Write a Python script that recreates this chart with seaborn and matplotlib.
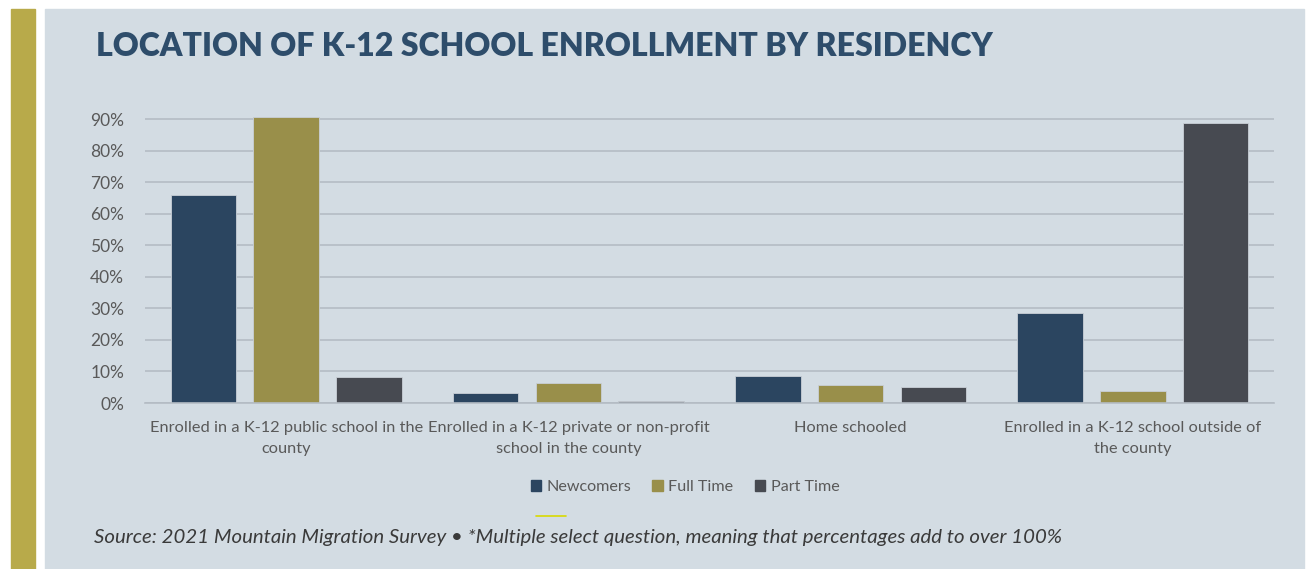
import matplotlib
matplotlib.use("Agg")
import matplotlib.pyplot as plt
import matplotlib.patches as mpatches
from matplotlib.lines import Line2D
from matplotlib.ticker import FixedLocator, PercentFormatter
import seaborn as sns
import pandas as pd

# --- data ---
categories = [
    "Enrolled in a K-12 public school in the\ncounty",
    "Enrolled in a K-12 private or non-profit\nschool in the county",
    "Home schooled",
    "Enrolled in a K-12 school outside of\nthe county",
]
groups = ["Newcomers", "Full Time", "Part Time"]
newcomers = [0.661, 0.033, 0.086, 0.285]
full_time = [0.909, 0.063, 0.057, 0.038]
part_time = [0.083, 0.005, 0.052, 0.888]

colors = ["#2B4560", "#998F4A", "#474A51"]
panel_bg = "#D3DCE3"
text_col = "#595959"

rows = []
for name, vals in zip(groups, [newcomers, full_time, part_time]):
    for cat, v in zip(categories, vals):
        rows.append({"category": cat, "group": name, "share": v})
df = pd.DataFrame(rows)

sns.set_style("white")
plt.rcParams["font.family"] = ["Lato", "DejaVu Sans"]

W, H = 1308, 569
fig = plt.figure(figsize=(W / 100, H / 100), dpi=100)
fig.patch.set_facecolor("white")

# background panel and gold side bar
fig.patches.append(mpatches.Rectangle((45 / W, 0), 1259 / W, 1 - 9 / H,
                                      transform=fig.transFigure, color=panel_bg, zorder=-10))
fig.patches.append(mpatches.Rectangle((11 / W, 0), 24 / W, 1 - 9 / H,
                                      transform=fig.transFigure, color="#B8AA4A", zorder=-10))

ax = fig.add_axes([145 / W, 1 - 403 / H, (1274 - 145) / W, (403 - 110) / H])
ax.set_facecolor("none")

sns.barplot(data=df, x="category", y="share", hue="group", hue_order=groups,
            palette=colors, saturation=1, width=0.88, gap=0.21, ax=ax, legend=False,
            edgecolor="#c9cfd6", linewidth=0.6, zorder=3)

ax.set_ylim(0, 0.93)
ax.set_xlim(-0.5, 3.5)
ax.yaxis.set_major_locator(FixedLocator([i / 10 for i in range(10)]))
ax.yaxis.set_major_formatter(PercentFormatter(1.0, decimals=0))
ax.grid(axis="y", color="#B4BCC4", linewidth=1.2, zorder=0)
ax.set_axisbelow(True)
for s in ["top", "right", "left"]:
    ax.spines[s].set_visible(False)
ax.spines["bottom"].set_color("#B4BCC4")
ax.spines["bottom"].set_linewidth(1.2)
ax.spines["bottom"].set_zorder(4)

ax.tick_params(axis="y", length=0, pad=15, labelsize=12.5, labelcolor=text_col)
ax.tick_params(axis="x", which="major", length=0, pad=13, labelsize=11.8, labelcolor=text_col)
ax.xaxis.set_minor_locator(FixedLocator([-0.5, 0.5, 1.5, 2.5, 3.5]))
ax.tick_params(axis="x", which="minor", length=10, direction="inout", color="#B4BCC4", width=1.2)
for lab in ax.get_xticklabels():
    lab.set_linespacing(1.65)
ax.set_xlabel("")
ax.set_ylabel("")

fig.text(96 / W, 1 - 47 / H, "LOCATION OF K-12 SCHOOL ENROLLMENT BY RESIDENCY",
         fontsize=23, fontweight="heavy", color="#2E4D6B", va="center", ha="left")

handles = [mpatches.Patch(color=c, label=g) for c, g in zip(colors, groups)]
fig.legend(handles=handles, loc="center", bbox_to_anchor=(685 / W, 1 - 487 / H), ncol=3,
           frameon=False, fontsize=11.6, handlelength=0.65, handleheight=0.65,
           handletextpad=0.35, columnspacing=1.3, labelcolor=text_col)

fig.lines.append(Line2D([536 / W, 566 / W], [1 - 516 / H, 1 - 516 / H],
                        transform=fig.transFigure, color="#D9D900", linewidth=1.2))

fig.text(94 / W, 1 - 537 / H,
         "Source: 2021 Mountain Migration Survey \u2022 *Multiple select question, meaning that percentages add to over 100%",
         fontsize=14.7, fontstyle="italic", color="#3A3A3A",
         va="center", ha="left")

fig.savefig("out.png", dpi=100, facecolor="white")
